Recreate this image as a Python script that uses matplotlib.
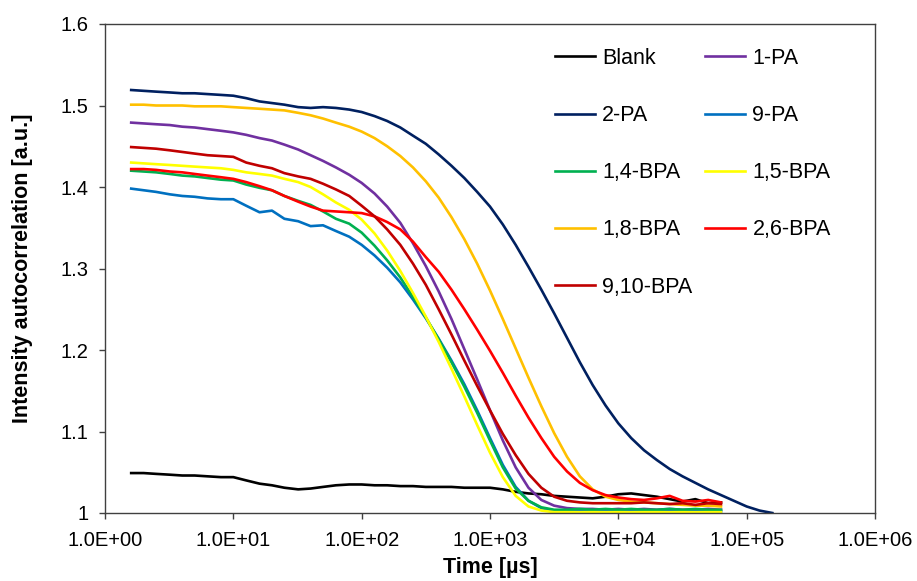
import numpy as np
import matplotlib
matplotlib.use('Agg')
import matplotlib.pyplot as plt
from matplotlib.ticker import FixedLocator, FuncFormatter, NullLocator

plt.rcParams['font.family'] = ['Liberation Sans', 'DejaVu Sans']

# time grid [us], shared by all curves
t = [1.6, 2, 2.5, 3.2, 4, 5, 6.3, 8, 10, 12.6, 16, 20, 25, 32, 40, 50, 63, 80,
     100, 126, 158, 200, 251, 316, 398, 501, 631, 794, 1000, 1259, 1585, 1995,
     2512, 3162, 3981, 5012, 6310, 7943, 10000, 12589, 15849, 19953, 25119,
     31623, 39811, 50119, 63096]
t_long = t + [79433, 100000, 125893, 158489]

blank = [1.049, 1.049, 1.048, 1.047, 1.046, 1.046, 1.045, 1.044, 1.044, 1.040,
         1.036, 1.034, 1.031, 1.029, 1.030, 1.032, 1.034, 1.035, 1.035, 1.034,
         1.034, 1.033, 1.033, 1.032, 1.032, 1.032, 1.031, 1.031, 1.031, 1.029,
         1.026, 1.024, 1.023, 1.021, 1.020, 1.019, 1.018, 1.020, 1.023, 1.024,
         1.022, 1.020, 1.017, 1.014, 1.017, 1.012, 1.013]
pa_1 = [1.479, 1.478, 1.477, 1.476, 1.474, 1.473, 1.471, 1.469, 1.467, 1.464,
        1.460, 1.457, 1.452, 1.446, 1.439, 1.432, 1.424, 1.415, 1.405, 1.392,
        1.376, 1.356, 1.331, 1.303, 1.272, 1.238, 1.201, 1.164, 1.126, 1.089,
        1.056, 1.031, 1.016, 1.009, 1.006, 1.005, 1.005, 1.004, 1.005, 1.004,
        1.005, 1.004, 1.005, 1.004, 1.004, 1.005, 1.004]
pa_2 = [1.519, 1.518, 1.517, 1.516, 1.515, 1.515, 1.514, 1.513, 1.512, 1.509,
        1.505, 1.503, 1.501, 1.498, 1.497, 1.498, 1.497, 1.495, 1.492, 1.487,
        1.481, 1.473, 1.463, 1.453, 1.440, 1.426, 1.411, 1.394, 1.376, 1.354,
        1.329, 1.302, 1.274, 1.245, 1.215, 1.185, 1.157, 1.132, 1.110, 1.092,
        1.077, 1.065, 1.054, 1.045, 1.037, 1.029, 1.022, 1.015, 1.008, 1.003,
        1.000]
pa_9 = [1.398, 1.396, 1.394, 1.391, 1.389, 1.388, 1.386, 1.385, 1.385, 1.377,
        1.369, 1.371, 1.361, 1.358, 1.352, 1.353, 1.346, 1.339, 1.329, 1.316,
        1.301, 1.283, 1.262, 1.239, 1.214, 1.187, 1.158, 1.126, 1.092, 1.059,
        1.032, 1.015, 1.006, 1.003, 1.002, 1.003, 1.002, 1.003, 1.002, 1.003,
        1.002, 1.003, 1.002, 1.003, 1.002, 1.003, 1.002]
bpa_14 = [1.420, 1.419, 1.418, 1.416, 1.414, 1.413, 1.411, 1.409, 1.408, 1.403,
          1.399, 1.396, 1.389, 1.383, 1.378, 1.370, 1.361, 1.355, 1.344, 1.328,
          1.310, 1.289, 1.265, 1.240, 1.213, 1.185, 1.155, 1.123, 1.089, 1.056,
          1.030, 1.015, 1.007, 1.004, 1.004, 1.005, 1.004, 1.005, 1.004, 1.005,
          1.004, 1.004, 1.005, 1.004, 1.005, 1.004, 1.004]
bpa_15 = [1.430, 1.429, 1.428, 1.427, 1.426, 1.425, 1.424, 1.423, 1.421, 1.418,
          1.416, 1.414, 1.410, 1.406, 1.400, 1.391, 1.381, 1.372, 1.360, 1.343,
          1.322, 1.297, 1.270, 1.241, 1.210, 1.177, 1.143, 1.108, 1.074, 1.044,
          1.021, 1.008, 1.003, 1.001, 1.001, 1.001, 1.001, 1.001, 1.001, 1.001,
          1.001, 1.001, 1.001, 1.001, 1.001, 1.001, 1.001]
bpa_18 = [1.501, 1.501, 1.500, 1.500, 1.500, 1.499, 1.499, 1.499, 1.498, 1.497,
          1.496, 1.495, 1.494, 1.491, 1.488, 1.484, 1.479, 1.474, 1.468, 1.460,
          1.450, 1.438, 1.424, 1.407, 1.387, 1.363, 1.336, 1.306, 1.273, 1.238,
          1.202, 1.166, 1.131, 1.098, 1.069, 1.045, 1.029, 1.020, 1.016, 1.014,
          1.013, 1.012, 1.011, 1.010, 1.009, 1.009, 1.008]
bpa_26 = [1.422, 1.422, 1.421, 1.419, 1.418, 1.416, 1.414, 1.412, 1.410, 1.406,
          1.401, 1.396, 1.389, 1.382, 1.376, 1.371, 1.370, 1.369, 1.368, 1.364,
          1.357, 1.348, 1.333, 1.314, 1.296, 1.274, 1.250, 1.225, 1.199, 1.172,
          1.144, 1.117, 1.092, 1.069, 1.051, 1.037, 1.028, 1.022, 1.019, 1.017,
          1.016, 1.018, 1.021, 1.015, 1.014, 1.016, 1.013]
bpa_910 = [1.449, 1.448, 1.447, 1.445, 1.443, 1.441, 1.439, 1.438, 1.437, 1.430,
           1.426, 1.423, 1.417, 1.413, 1.410, 1.404, 1.397, 1.389, 1.377, 1.364,
           1.348, 1.329, 1.306, 1.280, 1.250, 1.219, 1.187, 1.156, 1.126, 1.097,
           1.071, 1.048, 1.031, 1.020, 1.015, 1.013, 1.012, 1.012, 1.012, 1.012,
           1.013, 1.012, 1.011, 1.012, 1.010, 1.012, 1.011]

names = ['Blank', '1-PA', '2-PA', '9-PA', '1,4-BPA', '1,5-BPA', '1,8-BPA', '2,6-BPA', '9,10-BPA']
series = [blank, pa_1, pa_2, pa_9, bpa_14, bpa_15, bpa_18, bpa_26, bpa_910]
colors = ['#000000', '#7030A0', '#002060', '#0070C0', '#00B050', '#FFFF00',
          '#FFC000', '#FF0000', '#C00000']

fig = plt.figure(figsize=(9.17, 5.81), dpi=100)
ax = fig.add_axes([105 / 917, 1 - 513 / 581, 770 / 917, 489 / 581])

lines = {}
for name, ys, c in zip(names, series, colors):
    xs = t_long if len(ys) == len(t_long) else t
    ln, = ax.plot(xs, ys, color=c, lw=1.9, label=name, solid_joinstyle='round')
    lines[name] = ln

ax.set_xscale('log')
ax.set_xlim(1, 1e6)
ax.set_ylim(1, 1.6)
ax.xaxis.set_major_locator(FixedLocator([10.0 ** k for k in range(7)]))
ax.xaxis.set_minor_locator(NullLocator())
ax.xaxis.set_major_formatter(FuncFormatter(lambda v, p: '%.1E' % v))
ax.set_yticks([1, 1.1, 1.2, 1.3, 1.4, 1.5, 1.6])
ax.yaxis.set_major_formatter(FuncFormatter(lambda v, p: '%g' % round(v, 1)))

for s in ax.spines.values():
    s.set_color('#404040')
    s.set_linewidth(1.0)
ax.tick_params(direction='out', length=4, width=1, color='#404040',
               labelsize=14.5, labelcolor='black')
ax.tick_params(axis='x', pad=9)
ax.tick_params(axis='y', pad=8)

ax.set_xlabel('Time [µs]', fontsize=15.5, fontweight='bold', labelpad=5)
ax.set_ylabel('Intensity autocorrelation [a.u.]', fontsize=15.5, fontweight='bold', labelpad=20)

order = ['Blank', '2-PA', '1,4-BPA', '1,8-BPA', '9,10-BPA', '1-PA', '9-PA', '1,5-BPA', '2,6-BPA']
ax.legend([lines[n] for n in order], order, ncol=2, frameon=False, fontsize=15.5,
          loc='upper left', bbox_to_anchor=(555 / 917, 1 - 48 / 581),
          bbox_transform=fig.transFigure, borderpad=0, borderaxespad=0,
          handlelength=1.86, handletextpad=0.33, columnspacing=0.6, labelspacing=1.68)

fig.savefig('out.png', dpi=100)
